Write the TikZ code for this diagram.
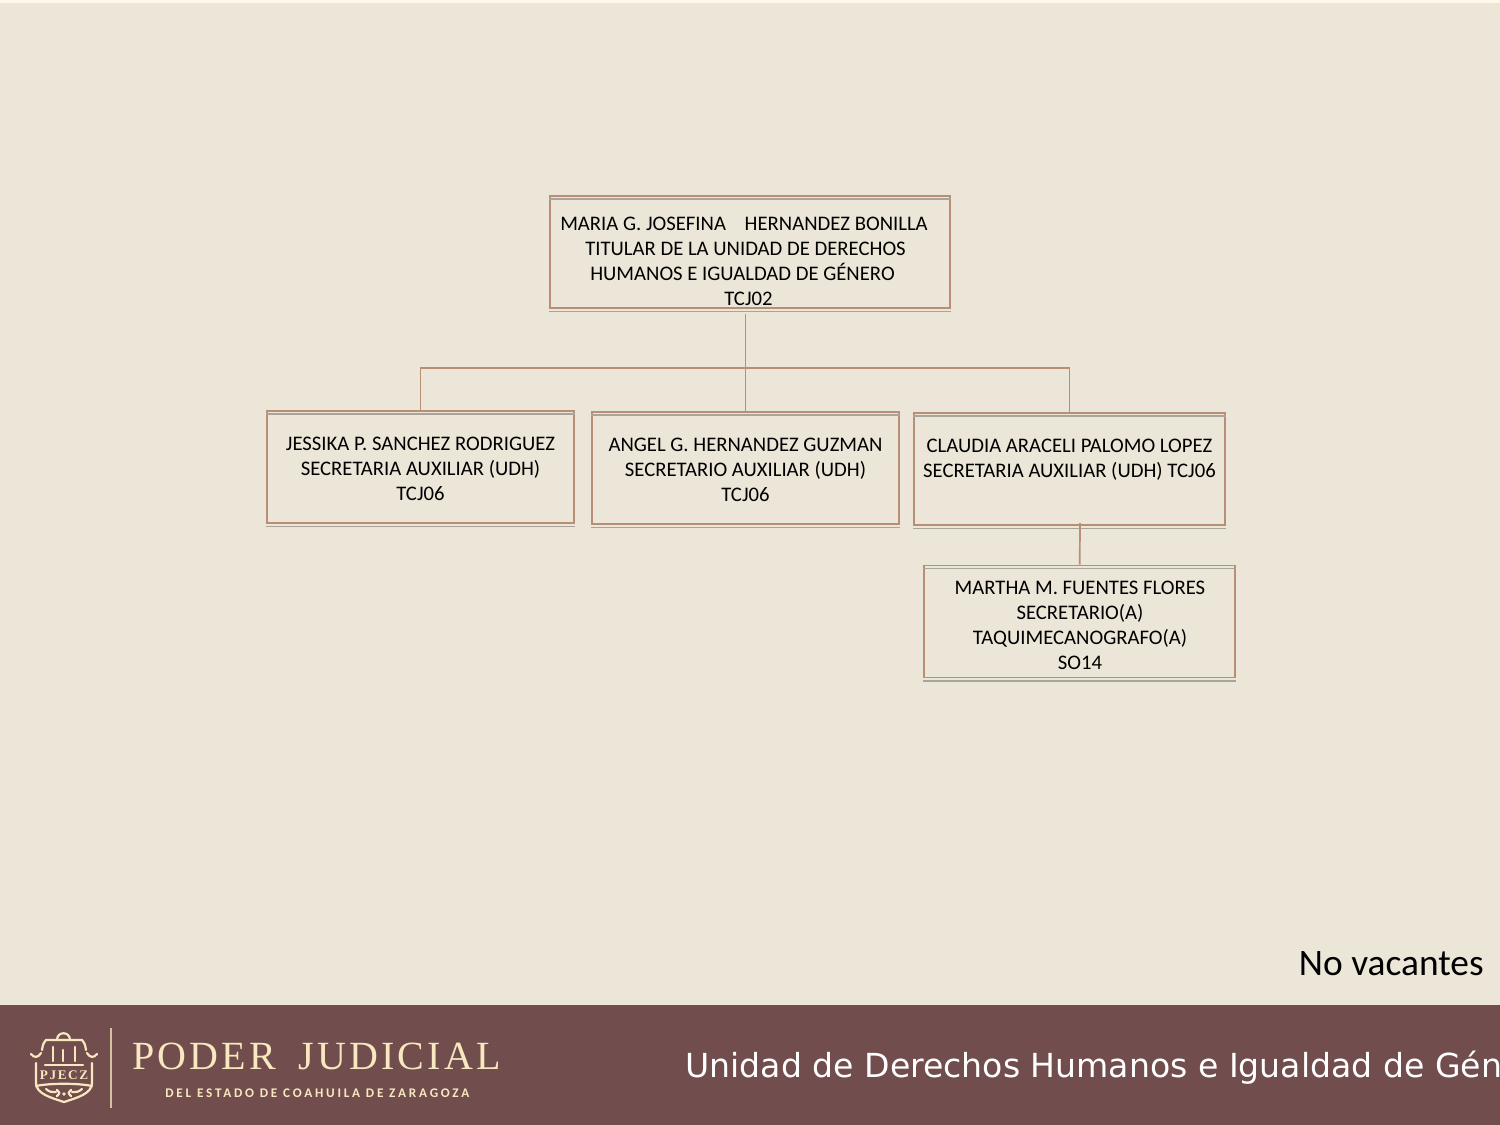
\documentclass[tikz,border=0pt]{standalone}
\usepackage{fontspec}
\setmainfont{Carlito}
\newfontfamily\footfont{DejaVu Sans}
\newfontfamily\crestfont[LetterSpace=8]{Liberation Serif}
\newfontfamily\statefont[LetterSpace=21]{Carlito}
\newfontfamily\sealfont[LetterSpace=12]{Liberation Serif}
\definecolor{paper}{HTML}{ECE6D8}
\definecolor{paperlight}{HTML}{FFF8E8}
\definecolor{wine}{HTML}{724D4D}
\definecolor{linebrown}{HTML}{B88F74}
\definecolor{linegray}{HTML}{A8A49C}
\definecolor{cream}{HTML}{F7E8BF}
\tikzset{
  orgbox/.style={draw=linebrown,line width=0.9pt,inner sep=0pt},
  orgtext/.style={font=\fontsize{10.35}{12.5}\selectfont,align=center,inner sep=0pt,text=black},
  crest/.style={draw=cream,line width=1.1pt,line cap=round}
}
\def\dbrown{\draw[linebrown,line width=0.85pt]}
\def\dcrest{\draw[crest]}
\def\shadow#1#2#3{\draw[linegray,line width=0.8pt] ([yshift=-#2]#1.north west) -- ([yshift=-#2]#1.north east);
  \draw[linegray,line width=0.8pt] ([yshift=-#3]#1.south west) -- ([yshift=-#3]#1.south east);}
\begin{document}
\begin{tikzpicture}[x=0.5pt,y=-0.5pt]
\useasboundingbox (0,0) rectangle (1500,1125);
\fill[paper] (0,0) rectangle (1500,1125);
\fill[paperlight] (0,0) rectangle (1500,3);
\fill[wine] (0,1005) rectangle (1500,1125);

\node[orgbox,minimum width=200pt,minimum height=56pt] (titular) at (750,252) {};
\node[orgbox,minimum width=153.5pt,minimum height=56pt] (jessika) at (420.5,467) {};
\node[orgbox,minimum width=153.5pt,minimum height=56pt] (angel) at (745.5,468) {};
\node[orgbox,minimum width=155.5pt,minimum height=56pt] (claudia) at (1069.5,469) {};
\node[orgbox,minimum width=155.5pt,minimum height=56pt] (martha) at (1079.75,621.5) {};
\shadow{titular}{2pt}{1.25pt}
\shadow{jessika}{2pt}{1.25pt}
\shadow{angel}{2pt}{1.25pt}
\shadow{claudia}{2pt}{1.25pt}
\shadow{martha}{2pt}{1.25pt}

\node[orgtext] (titulartext) at (745.5,261) {\hspace*{-1.5pt}MARIA G. JOSEFINA\ \ \ \ HERNANDEZ BONILLA\\TITULAR DE LA UNIDAD DE DERECHOS\\\hspace*{-3pt}HUMANOS E IGUALDAD DE GÉNERO\\\hspace*{3pt}TCJ02};
\node[orgtext] (jessikatext) at (420.5,468.5) {JESSIKA P. SANCHEZ RODRIGUEZ\\SECRETARIA AUXILIAR (UDH)\\TCJ06};
\node[orgtext] (angeltext) at (745.5,469.5) {ANGEL G. HERNANDEZ GUZMAN\\SECRETARIO AUXILIAR (UDH)\\TCJ06};
\node[orgtext] (claudiatext) at (1069.5,459.5) {CLAUDIA ARACELI PALOMO LOPEZ\\SECRETARIA AUXILIAR (UDH) TCJ06};
\node[orgtext] (marthatext) at (1080,625) {MARTHA M. FUENTES FLORES\\SECRETARIO(A)\\TAQUIMECANOGRAFO(A)\\SO14};

\coordinate (trunk) at (745.5,314);
\coordinate (bus) at (745.5,368);
\coordinate (drop) at (1080,523);
\dbrown (trunk) -- (angel.north);
\dbrown (jessika.north) |- (bus);
\dbrown (claudia.north) |- (bus);
\dbrown (drop) -- (martha.north);

\node[font=\fontsize{18.7}{20}\selectfont,anchor=east,inner sep=0pt] (vacantes) at (1484,963.5) {No vacantes};
\node[font=\footfont\fontsize{16.55}{18}\selectfont,text=white,anchor=west,inner sep=0pt] (unidad) at (685,1067.5) {Unidad de Derechos Humanos e Igualdad de Género};

\node[font=\crestfont\fontsize{20}{22}\selectfont,text=cream,anchor=west,inner sep=0pt] (poder) at (132,1056) {PODER\hspace{11pt}JUDICIAL};
\node[font=\statefont\bfseries\fontsize{6.6}{8}\selectfont,text=cream,anchor=west,inner sep=0pt] (estado) at (165,1093) {DEL ESTADO DE COAHUILA DE ZARAGOZA};
\draw[draw=cream!75!wine,line width=0.8pt] (111,1028) -- (111,1108);

\dcrest (36,1063) -- (36,1083) .. controls (36,1094) and (52,1098) .. (64,1102) .. controls (76,1098) and (92,1094) .. (92,1083) -- (92,1063);
\dcrest (36,1086) .. controls (50,1083) and (78,1083) .. (92,1086);
\dcrest (45,1065) -- (83,1065);
\dcrest (53,1047) -- (53,1061);
\dcrest (63,1050) -- (63,1061);
\dcrest (75,1047) -- (75,1061);
\dcrest (42,1050) .. controls (43,1044) .. (46,1040) -- (82,1040) .. controls (85,1044) .. (86,1050);
\dcrest (57,1040) .. controls (57,1031) and (70,1031) .. (70,1040);
\dcrest (31,1054) .. controls (34,1058) and (38,1058) .. (41,1053);
\dcrest (87,1053) .. controls (90,1058) and (94,1058) .. (97,1054);
\node[font=\sealfont\bfseries\fontsize{6.6}{7}\selectfont,text=cream,inner sep=0pt] (pjecz) at (64,1075) {PJECZ};
\dcrest (46,1089) .. controls (50,1092) .. (56,1092);
\dcrest (57,1096) .. controls (60,1093) .. (57,1090);
\dcrest (82,1089) .. controls (78,1092) .. (72,1092);
\dcrest (71,1096) .. controls (68,1093) .. (71,1090);
\fill[cream] (64,1094) circle (1.8);
\end{tikzpicture}
\end{document}
